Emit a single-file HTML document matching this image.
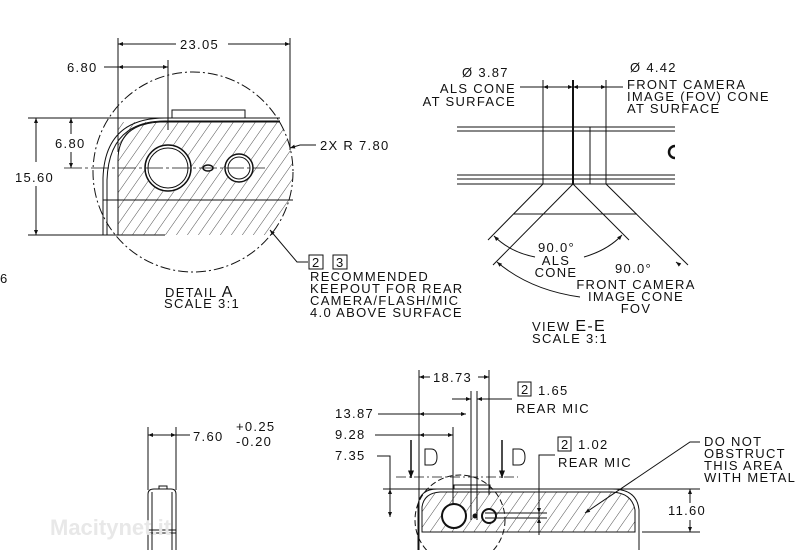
<!DOCTYPE html>
<html><head><meta charset="utf-8"><style>
html,body{margin:0;padding:0;background:#fff;width:800px;height:550px;overflow:hidden}
svg text{font-family:"Liberation Sans",sans-serif;font-size:13px;fill:#111;letter-spacing:1.3px}
</style></head><body>
<svg width="800" height="550" viewBox="0 0 800 550" xmlns="http://www.w3.org/2000/svg">
<defs>
<pattern id="h" width="9" height="9" patternUnits="userSpaceOnUse" patternTransform="rotate(35)">
<line x1="0" y1="0" x2="0" y2="9" stroke="#222" stroke-width="0.8"/></pattern>
<marker id="a" viewBox="0 0 10 10" refX="10" refY="5" markerWidth="7" markerHeight="5" orient="auto-start-reverse">
<path d="M0,1 L10,5 L0,9 z" fill="#111"/></marker>
<clipPath id="cA"><circle cx="193" cy="172" r="100"/></clipPath>
</defs>
<g stroke="#111" fill="none" stroke-width="1">
<!-- DETAIL A -->
<circle cx="193" cy="172" r="100" stroke-dasharray="10,3,2,3"/>
<path d="M118,122 L293,122 L293,235 L118,235 Z" fill="url(#h)" stroke="none" clip-path="url(#cA)"/>
<path d="M118,235 L118,160 Q118,124 160,122 L280,122" stroke-width="1"/>
<path d="M103,235 L103,178 Q105,118 165,118 L280,118"/>
<path d="M107,235 L107,180 Q109,121 165,121 L280,121"/>
<line x1="103" y1="200" x2="293" y2="200"/>
<rect x="172" y="110" width="73" height="8"/>
<circle cx="168" cy="168" r="23" stroke-width="1.5" fill="#fff"/>
<circle cx="168" cy="168" r="20"/>
<circle cx="239" cy="168" r="14" stroke-width="1.5" fill="#fff"/>
<circle cx="239" cy="168" r="11"/>
<ellipse cx="208" cy="168" rx="5" ry="3" stroke-width="1.5" fill="#fff"/>
<line x1="64" y1="168" x2="265" y2="168" stroke-dasharray="18,3,3,3" stroke-width="0.7"/>
<line x1="28" y1="118" x2="280" y2="118"/>
<line x1="28" y1="235" x2="165" y2="235"/>
<line x1="118" y1="38" x2="118" y2="152"/>
<line x1="290" y1="38" x2="290" y2="150"/>
<line x1="168" y1="60" x2="168" y2="130"/>
<line x1="118" y1="44" x2="176" y2="44" marker-start="url(#a)"/>
<line x1="228" y1="44" x2="290" y2="44" marker-end="url(#a)"/>
<line x1="104" y1="67" x2="118" y2="67"/>
<line x1="118" y1="67" x2="168" y2="67" marker-start="url(#a)" marker-end="url(#a)"/>
<line x1="36" y1="118" x2="36" y2="162" marker-start="url(#a)"/>
<line x1="36" y1="186" x2="36" y2="235" marker-end="url(#a)"/>
<line x1="71" y1="118" x2="71" y2="134" marker-start="url(#a)"/>
<line x1="71" y1="152" x2="71" y2="168" marker-end="url(#a)"/>
<polyline points="316,145 300,145 290,148" marker-end="url(#a)"/>
<polyline points="308,262 297,262 270,230" marker-end="url(#a)"/>
<rect x="309" y="255" width="14" height="14"/>
<rect x="333" y="255" width="14" height="14"/>
<!-- VIEW E-E -->
<line x1="457" y1="127" x2="675" y2="127"/>
<line x1="457" y1="131" x2="675" y2="131"/>
<line x1="457" y1="175" x2="675" y2="175"/>
<line x1="457" y1="179" x2="675" y2="179"/>
<line x1="457" y1="184" x2="675" y2="184"/>
<line x1="543" y1="80" x2="543" y2="184"/>
<line x1="573" y1="80" x2="573" y2="184" stroke-width="2"/>
<line x1="606" y1="80" x2="606" y2="184"/>
<line x1="590" y1="127" x2="590" y2="184"/>
<path d="M675,146 A6,6 0 0 0 675,158" stroke-width="2.5"/>
<line x1="520" y1="87" x2="543" y2="87"/>
<line x1="543" y1="87" x2="573" y2="87" marker-start="url(#a)" marker-end="url(#a)"/>
<line x1="573" y1="87" x2="606" y2="87" marker-start="url(#a)" marker-end="url(#a)"/>
<line x1="606" y1="87" x2="623" y2="87"/>
<line x1="543" y1="184" x2="488" y2="240"/>
<line x1="573" y1="184" x2="493" y2="265"/>
<line x1="573" y1="184" x2="629" y2="240"/>
<line x1="606" y1="184" x2="688" y2="265"/>
<line x1="514" y1="214" x2="637" y2="214"/>
<path d="M535,257 Q510,252 494,236" marker-end="url(#a)"/>
<path d="M584,257 Q608,250 622,235" marker-end="url(#a)"/>
<path d="M580,297 Q530,290 497,262" marker-end="url(#a)"/>
<path d="M676,262 L680,265" marker-start="url(#a)"/>
<!-- bottom view -->
<line x1="419" y1="370" x2="419" y2="550"/>
<line x1="489" y1="370" x2="489" y2="495"/>
<line x1="419" y1="377" x2="430" y2="377" marker-start="url(#a)"/>
<line x1="478" y1="377" x2="489" y2="377" marker-end="url(#a)"/>
<line x1="471" y1="391" x2="471" y2="520"/>
<line x1="477" y1="391" x2="477" y2="520"/>
<line x1="452" y1="399" x2="471" y2="399" marker-end="url(#a)"/>
<line x1="512" y1="399" x2="477" y2="399" marker-end="url(#a)"/>
<line x1="378" y1="414" x2="419" y2="414"/>
<line x1="419" y1="414" x2="466" y2="414" marker-start="url(#a)" marker-end="url(#a)"/>
<line x1="375" y1="435" x2="419" y2="435"/>
<line x1="419" y1="435" x2="453" y2="435" marker-start="url(#a)" marker-end="url(#a)"/>
<line x1="453" y1="427" x2="453" y2="520"/>
<polyline points="377,456 390,456 390,517"/>
<line x1="390" y1="489" x2="390" y2="500" marker-start="url(#a)"/>
<line x1="390" y1="505" x2="390" y2="517" marker-end="url(#a)"/>
<line x1="411" y1="440" x2="411" y2="478" marker-end="url(#a)" stroke-width="1.5"/>
<line x1="502" y1="440" x2="502" y2="478" marker-end="url(#a)" stroke-width="1.5"/>
<path d="M425,449 L425,465 L431,465 Q437,465 437,457 Q437,449 431,449 Z"/>
<path d="M513,449 L513,465 L519,465 Q525,465 525,457 Q525,449 519,449 Z"/>
<line x1="396" y1="477" x2="518" y2="477" stroke-dasharray="10,3,2,3" stroke-width="0.7"/>
<line x1="383" y1="489" x2="700" y2="489"/>
<path d="M422,532 L422,507 Q424,493 440,492 L612,492 Q632,493 635,510 L635,532 Z" fill="url(#h)"/>
<path d="M418,550 L418,505 Q420,489 437,489 L612,489 Q637,489 639,510 L639,550"/>
<circle cx="460" cy="520" r="45" stroke-dasharray="6,3"/>
<rect x="454" y="485" width="36" height="4"/>
<circle cx="454" cy="516" r="12" stroke-width="2" fill="#fff"/>
<circle cx="489" cy="516" r="7" stroke-width="2" fill="#fff"/>
<circle cx="475" cy="516" r="2" fill="#111"/>
<line x1="485" y1="513" x2="547" y2="513"/>
<line x1="485" y1="518" x2="547" y2="518"/>
<polyline points="555,455 539,455 539,535"/>
<line x1="539" y1="500" x2="539" y2="513" marker-end="url(#a)"/>
<line x1="539" y1="530" x2="539" y2="518" marker-end="url(#a)"/>
<polyline points="700,442 690,442 585,513" marker-end="url(#a)"/>
<line x1="642" y1="532" x2="700" y2="532"/>
<line x1="690" y1="489" x2="690" y2="503" marker-start="url(#a)"/>
<line x1="690" y1="520" x2="690" y2="532" marker-end="url(#a)"/>
<rect x="518" y="382" width="13" height="14"/>
<rect x="558" y="437" width="13" height="14"/>
<!-- left bottom -->
<line x1="148" y1="427" x2="148" y2="490"/>
<line x1="176" y1="427" x2="176" y2="490"/>
<line x1="148" y1="435" x2="176" y2="435" marker-start="url(#a)" marker-end="url(#a)"/>
<line x1="176" y1="435" x2="190" y2="435"/>
<path d="M148,550 L148,494 Q148,489 154,489 L171,489 Q176,489 176,494 L176,550"/>
<line x1="152" y1="492" x2="152" y2="550"/>
<line x1="172" y1="492" x2="172" y2="550"/>
<line x1="148" y1="530" x2="176" y2="530"/>
<line x1="148" y1="533" x2="176" y2="533"/>
<path d="M159,489 L159,486 L167,486 L167,489"/>
</g>
<text x="50" y="535" style="font-size:22px;fill:#e8e8e8;font-weight:bold;letter-spacing:0">Macitynet.it</text>
<g>
<text x="180" y="49">23.05</text>
<text x="67" y="72">6.80</text>
<text x="55" y="148">6.80</text>
<text x="15" y="182">15.60</text>
<text x="320" y="150">2X R 7.80</text>
<text x="312" y="267">2</text><text x="336" y="267">3</text>
<text x="310" y="281">RECOMMENDED</text>
<text x="310" y="293">KEEPOUT FOR REAR</text>
<text x="310" y="305">CAMERA/FLASH/MIC</text>
<text x="310" y="317">4.0 ABOVE SURFACE</text>
<text x="165" y="297">DETAIL <tspan style="font-size:16px">A</tspan></text>
<text x="164" y="308">SCALE 3:1</text>
<text x="0" y="283">6</text>
<text x="462" y="77">Ø 3.87</text>
<text x="516" y="93" text-anchor="end">ALS CONE</text>
<text x="516" y="106" text-anchor="end">AT SURFACE</text>
<text x="630" y="72">Ø 4.42</text>
<text x="627" y="89">FRONT CAMERA</text>
<text x="627" y="101">IMAGE (FOV) CONE</text>
<text x="627" y="113">AT SURFACE</text>
<text x="538" y="252">90.0°</text>
<text x="556" y="265" text-anchor="middle">ALS</text>
<text x="556" y="277" text-anchor="middle">CONE</text>
<text x="615" y="273">90.0°</text>
<text x="636" y="289" text-anchor="middle">FRONT CAMERA</text>
<text x="636" y="301" text-anchor="middle">IMAGE CONE</text>
<text x="636" y="313" text-anchor="middle">FOV</text>
<text x="532" y="331">VIEW <tspan style="font-size:16px">E-E</tspan></text>
<text x="532" y="343">SCALE 3:1</text>
<text x="433" y="382">18.73</text>
<text x="521" y="394">2</text>
<text x="538" y="395">1.65</text>
<text x="516" y="413">REAR MIC</text>
<text x="335" y="418">13.87</text>
<text x="335" y="439">9.28</text>
<text x="335" y="460">7.35</text>
<text x="561" y="449">2</text>
<text x="578" y="449">1.02</text>
<text x="558" y="467">REAR MIC</text>
<text x="704" y="446">DO NOT</text>
<text x="704" y="458">OBSTRUCT</text>
<text x="704" y="470">THIS AREA</text>
<text x="704" y="482">WITH METAL</text>
<text x="668" y="515">11.60</text>
<text x="193" y="441">7.60</text>
<text x="236" y="431">+0.25</text>
<text x="236" y="446">-0.20</text>
</g>
</svg>
</body></html>
